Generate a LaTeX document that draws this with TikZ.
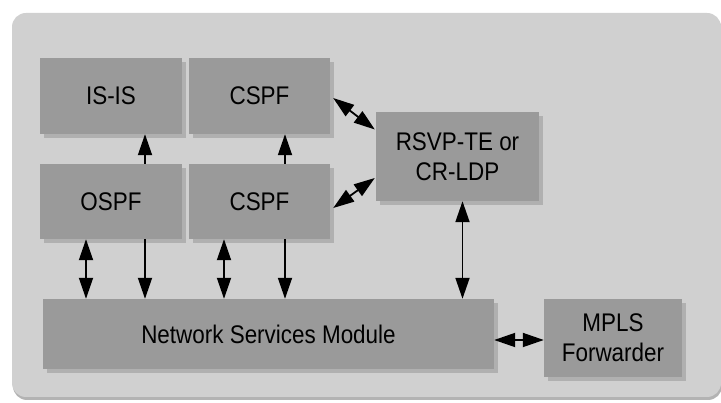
\documentclass[tikz,border=0pt]{standalone}
\usepackage{fontspec}
\setmainfont{Liberation Sans}[FakeStretch=0.88]
\usepackage{xcolor}
\usetikzlibrary{arrows.meta,shadows}

\definecolor{boxgray}{RGB}{154,154,154}
\definecolor{panelgray}{RGB}{208,208,208}

\begin{document}
\begin{tikzpicture}[x=1pt,y=-1pt,
	blk/.style={fill=boxgray, inner sep=0pt, align=center,
		font=\fontsize{25.5}{30}\selectfont,
		drop shadow={shadow xshift=4pt,shadow yshift=-4pt,opacity=.4}},
	one/.style={line width=1.8pt,-{Triangle[length=21pt,width=14pt]}},
	two/.style={line width=1.8pt,{Triangle[length=21pt,width=14pt]}-{Triangle[length=21pt,width=14pt]}}]

	\useasboundingbox (0,0) rectangle (721,403);
	\fill[panelgray, rounded corners=14pt,
		drop shadow={shadow xshift=1pt,shadow yshift=-3pt,opacity=.6}] (12,13) rectangle (721,397);

	\node[blk, minimum width=142pt, minimum height=76pt] (isis) at (111,96) {IS-IS};
	\node[blk, minimum width=141pt, minimum height=76pt] (cspfa) at (259.5,96) {CSPF};
	\node[blk, minimum width=142pt, minimum height=75pt] (ospf) at (111,201.5) {OSPF};
	\node[blk, minimum width=141pt, minimum height=75pt] (cspfb) at (259.5,201.5) {CSPF};
	\node[blk, minimum width=163pt, minimum height=89pt] (rsvp) at (457.5,156.5) {RSVP-TE or\\CR-LDP};
	\node[blk, minimum width=451pt, minimum height=70pt] (nsm) at (268.5,334) {Network Services Module};
	\node[blk, minimum width=138pt, minimum height=78pt] (mpls) at (613,338) {MPLS\\Forwarder};

	\draw[one] ([xshift=34pt]ospf.north) -- ([xshift=34pt]isis.south);
	\draw[one] ([xshift=25.5pt]cspfb.north) -- ([xshift=25.5pt]cspfa.south);

	\draw[two] ([xshift=-25pt]ospf.south) -- ([xshift=-25pt]ospf.south |- nsm.north);
	\draw[one] ([xshift=34pt]ospf.south) -- ([xshift=34pt]ospf.south |- nsm.north);
	\draw[two] ([xshift=-35.5pt]cspfb.south) -- ([xshift=-35.5pt]cspfb.south |- nsm.north);
	\draw[one] ([xshift=25.5pt]cspfb.south) -- ([xshift=25.5pt]cspfb.south |- nsm.north);
	\draw[two] ([xshift=5pt]rsvp.south) -- ([xshift=5pt]rsvp.south |- nsm.north);

	\draw[two] ([xshift=3pt,yshift=-2pt]cspfa.east) -- ([xshift=-1pt,yshift=27pt]rsvp.west);
	\draw[two] ([xshift=3pt,yshift=-6.5pt]cspfb.east) -- ([xshift=-1pt,yshift=-21.5pt]rsvp.west);
	\draw[two] ([yshift=-6pt]nsm.east) -- ([yshift=-6pt]nsm.east -| mpls.west);

\end{tikzpicture}
\end{document}
